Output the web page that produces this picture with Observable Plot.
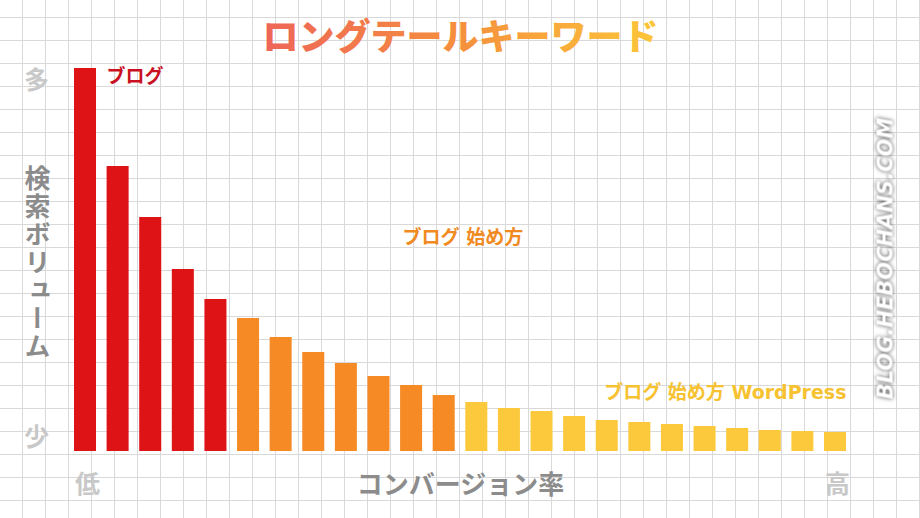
<!DOCTYPE html>
<html>
<head>
<meta charset="utf-8">
<script src="https://cdn.jsdelivr.net/npm/d3@7"></script>
<script src="https://cdn.jsdelivr.net/npm/@observablehq/plot@0.6"></script>
<style>
  html, body { margin: 0; padding: 0; background: #fff; }
  #chart {
    width: 920px; height: 518px; overflow: hidden;
    background-color: #fff;
    background-image:
      linear-gradient(to right, #d9d9d9 1px, transparent 1px),
      linear-gradient(to bottom, #d9d9d9 1px, transparent 1px);
    background-size: 23px 23px;
    background-position: -1px 17px;
  }
  #chart svg { background: transparent !important; }
</style>
</head>
<body>
<div id="chart"></div>
<script>
// Keywords ranked by conversion rate (low -> high)
const ranks = [1,2,3,4,5,6,7,8,9,10,11,12,13,14,15,16,17,18,19,20,21,22,23,24];
// Search volume (relative)
const volumes = [383,285,234,182,152,133,114,99,88,75,66,56,49,43,40,35,31,29,27,25,23,21,20,19];
// Keyword group of each bar
const groups = ["big","big","big","big","big",
  "middle","middle","middle","middle","middle","middle","middle",
  "long","long","long","long","long","long","long","long","long","long","long","long"];
const groupNames = ["big","middle","long"];
const groupColors = ["#dd1316","#f68b26","#fcc93c"];
const labelColors = ["#c9111f","#f08a22","#f7c231"];

// Annotation labels
const noteTexts = ["ブログ", "ブログ 始め方", "ブログ 始め方 WordPress"];
const noteRanks = [1, 11, 24];
const noteValues = [375, 214, 59];
const noteAnchors = ["start", "start", "end"];
const noteDx = [21, -9, 11];

// Axis tick labels
const yTickValues = [370.5, 14];
const yTickLabels = ["多", "少"];
const xTickValues = [1, 24];
const xTickLabels = ["低", "高"];

const title = "ロングテールキーワード";
const yTitle = "検索ボリューム";
const xTitle = "コンバージョン率";
const watermark = "BLOG.HEBOCHANS.COM";

const bars = ranks.map((r, i) => ({rank: r, volume: volumes[i], group: groups[i]}));
const notes = noteTexts.map((t, i) => ({text: t, rank: noteRanks[i], value: noteValues[i],
  color: labelColors[i], anchor: noteAnchors[i], dx: noteDx[i]}));

const JP = "'Noto Sans CJK JP', 'Noto Sans', sans-serif";
const NOTE_FONT = "'DejaVu Sans', 'Noto Sans CJK JP', sans-serif";

const defs = () => {
  const ns = "http://www.w3.org/2000/svg";
  const d = document.createElementNS(ns, "defs");
  const g = document.createElementNS(ns, "linearGradient");
  g.setAttribute("id", "titleGrad");
  g.setAttribute("x1", "0"); g.setAttribute("x2", "1");
  g.setAttribute("y1", "0"); g.setAttribute("y2", "0");
  [["0%", "#ee6558"], ["50%", "#f5903d"], ["100%", "#fcc638"]].forEach(([o, c]) => {
    const s = document.createElementNS(ns, "stop");
    s.setAttribute("offset", o); s.setAttribute("stop-color", c);
    g.appendChild(s);
  });
  d.appendChild(g);
  return d;
};

const chart = Plot.plot({
  width: 920,
  height: 518,
  marginLeft: 74,
  marginRight: 74,
  marginTop: 51,
  marginBottom: 67,
  style: {background: "transparent", fontFamily: JP},
  x: {type: "band", domain: ranks, range: [74, 846], paddingInner: 0.325, paddingOuter: 0, round: false},
  y: {domain: [0, 400], range: [451, 51]},
  color: {domain: groupNames, range: groupColors},
  marks: [
    defs,
    Plot.barY(bars, {x: "rank", y: "volume", fill: "group"}),
    ...notes.map(n => Plot.text([n], {x: "rank", y: "value", text: "text", fill: n.color,
      textAnchor: n.anchor, dx: n.dx, fontSize: 19, fontWeight: "bold", fontFamily: NOTE_FONT})),
    Plot.axisY({ticks: yTickValues, tickFormat: d => yTickLabels[yTickValues.indexOf(d)],
      tickSize: 0, tickPadding: 0, textAnchor: "middle", dx: -38, fontSize: 25,
      fontWeight: "bold", fill: "#c8c8c8", label: null, fontFamily: JP}),
    Plot.axisX({ticks: xTickValues, tickFormat: d => xTickLabels[xTickValues.indexOf(d)],
      tickSize: 0, tickPadding: 0, lineAnchor: "middle", dy: 33, dx: 2, fontSize: 25,
      fontWeight: "bold", fill: "#c8c8c8", label: null, fontFamily: JP}),
    Plot.text([title], {frameAnchor: "top", dy: -13, lineAnchor: "middle", fontSize: 36,
      fontWeight: 900, fill: "url(#titleGrad)", fontFamily: JP}),
    Plot.text([xTitle], {frameAnchor: "bottom", dy: 34, lineAnchor: "middle", fontSize: 26,
      fontWeight: "bold", fill: "#8c8c8c", fontFamily: JP}),
    Plot.text([yTitle], {frameAnchor: "left", textAnchor: "middle", dx: -37, dy: 12,
      lineAnchor: "bottom", fontSize: 26, fontWeight: "bold", fill: "#8c8c8c", fontFamily: JP}),
    Plot.text([watermark], {frameAnchor: "right", textAnchor: "middle", dx: 39, dy: 7, rotate: -90,
      lineAnchor: "middle", fontSize: 21, fontWeight: "bold", fontStyle: "italic", fill: "white",
      fontFamily: "'DejaVu Sans', 'Liberation Sans', sans-serif"})
  ]
});

const svg = d3.select(chart);
const byText = s => svg.selectAll("text").filter(function() { return this.textContent === s; });
// vertical Japanese axis title
byText(yTitle)
  .attr("text-anchor", "middle")
  .style("writing-mode", "vertical-rl")
  .style("letter-spacing", "2px")
  .attr("y", null)
  .attr("dy", null);
// watermark shadow
byText(watermark)
  .style("filter", "drop-shadow(0px 0px 2px rgba(0,0,0,0.7))");

document.getElementById("chart").appendChild(chart);
</script>
</body>
</html>
